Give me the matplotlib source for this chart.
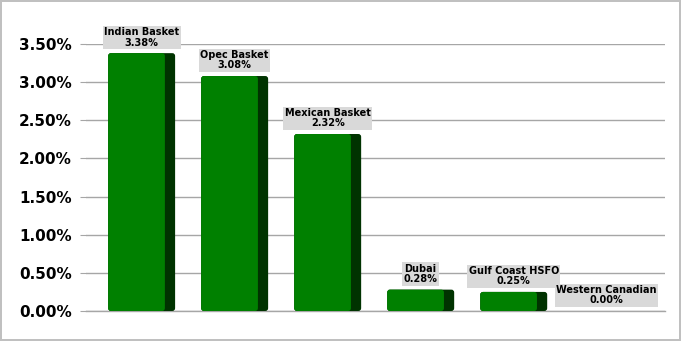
import matplotlib
matplotlib.use('Agg')
import matplotlib.pyplot as plt
from matplotlib.patches import FancyBboxPatch
from matplotlib.ticker import FuncFormatter

# DATA
categories = ['Indian Basket', 'Opec Basket', 'Mexican Basket', 'Dubai',
              'Gulf Coast HSFO', 'Western Canadian']
values = [3.38, 3.08, 2.32, 0.28, 0.25, 0.00]
y_ticks = [0.0, 0.5, 1.0, 1.5, 2.0, 2.5, 3.0, 3.5]

fig = plt.figure(figsize=(6.81, 3.41), dpi=100)
fig.patch.set_edgecolor('#c0c0c0')
fig.patch.set_linewidth(1.5)
ax = fig.add_axes([0.126, 0.088, 0.851, 0.783])

x = list(range(len(categories)))
bar_w = 0.72
side_w = 0.11

ax.set_xlim(-0.6, 5.63)
ax.set_ylim(0, 3.5)

# aspect between data units so the corners look round
ax_w_px = 0.851 * 681
ax_h_px = 0.783 * 341
aspect = (3.5 / ax_h_px) / (6.23 / ax_w_px)

bars = ax.bar(x, values, width=bar_w, color='none', zorder=3)
for b in bars:
    if b.get_height() <= 0:
        continue
    x0, y0, w, h = b.get_x(), b.get_y(), b.get_width(), b.get_height()
    r = 0.03
    ry = r * aspect
    ax.add_patch(FancyBboxPatch((x0 + r, y0 + ry), w - 2 * r, h - 2 * ry,
                                boxstyle=f'round,pad={r}', mutation_aspect=aspect,
                                fc='#003300', ec='none', zorder=3))
    ax.add_patch(FancyBboxPatch((x0 + r, y0 + ry), w - side_w - 2 * r, h - 2 * ry,
                                boxstyle=f'round,pad={r}', mutation_aspect=aspect,
                                fc='#008000', ec='none', zorder=4))

for i, v in zip(x, values):
    ax.annotate(f'{categories[i]}\n{v:.2f}%', xy=(i, v), xytext=(0, 4),
                textcoords='offset points', ha='center', va='bottom',
                fontsize=7, fontweight='bold', linespacing=1.05,
                annotation_clip=False, zorder=5,
                bbox=dict(boxstyle='square,pad=0.15', fc='#d9d9d9', ec='none'))

ax.set_yticks(y_ticks)
ax.yaxis.set_major_formatter(FuncFormatter(lambda v, p: f'{v:.2f}%'))
ax.set_xticks([])
ax.tick_params(axis='y', labelsize=11, length=4, color='#a6a6a6', pad=6)
for lbl in ax.get_yticklabels():
    lbl.set_fontweight('bold')

ax.grid(axis='y', color='#a6a6a6', linewidth=1, zorder=0)
ax.axhline(0, color='#a6a6a6', linewidth=1, zorder=2, clip_on=False)
for s in ax.spines.values():
    s.set_visible(False)

fig.savefig('out.png', dpi=100, edgecolor=fig.get_edgecolor())
